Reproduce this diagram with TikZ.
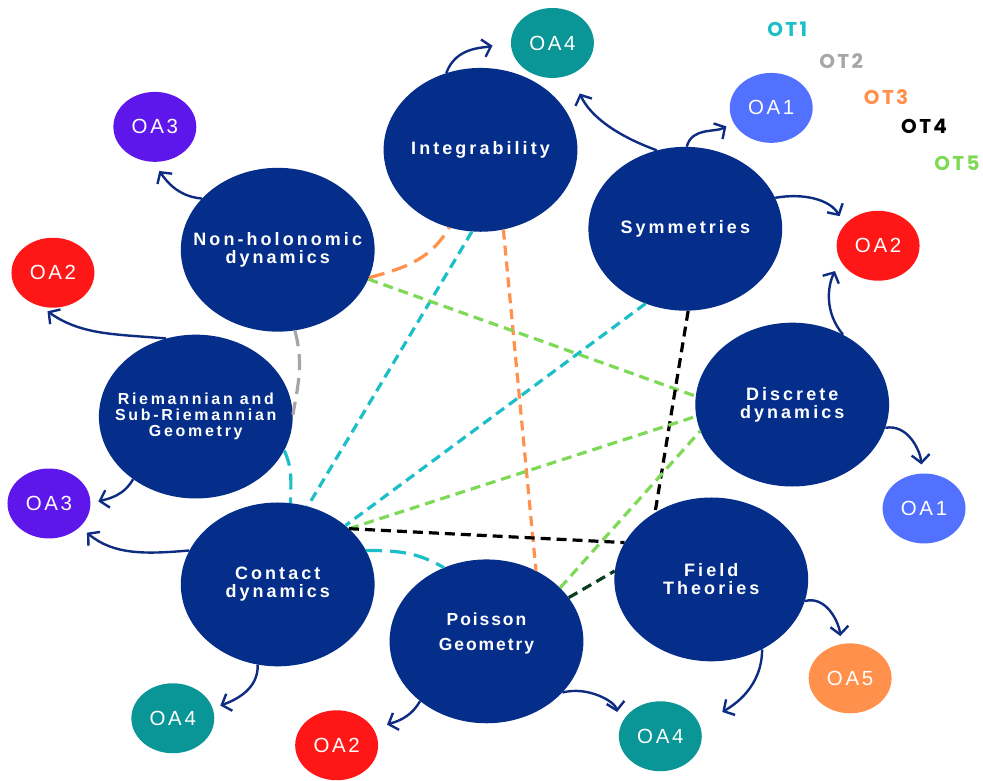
\documentclass[tikz,border=0pt]{standalone}
\usepackage{fontspec}
\setmainfont{Liberation Sans}
\newfontfamily\topicfont[LetterSpace=17]{Liberation Sans}
\newfontfamily\poissonfont[LetterSpace=11]{Liberation Sans}
\newfontfamily\oafont[LetterSpace=13]{Liberation Sans}
\newfontfamily\otfont[LetterSpace=12]{Poppins}
\usetikzlibrary{arrows.meta,shapes.geometric}
\definecolor{topicB}{RGB}{4,46,138}
\definecolor{flowB}{RGB}{14,44,130}
\definecolor{tealB}{RGB}{10,150,150}
\definecolor{blueB}{RGB}{82,113,255}
\definecolor{redB}{RGB}{255,22,22}
\definecolor{purpleB}{RGB}{94,23,235}
\definecolor{orangeB}{RGB}{255,145,77}
\definecolor{cyanB}{RGB}{28,190,200}
\definecolor{greyB}{RGB}{166,166,166}
\definecolor{greenB}{RGB}{126,217,87}
\definecolor{darkgreenB}{RGB}{12,60,32}

\begin{document}
\begin{tikzpicture}[x=1pt,y=1pt,
  topic/.style={ellipse, fill=topicB, text=white, minimum width=194pt, minimum height=164pt,
    inner xsep=-40pt, inner ysep=0pt, align=center,
    font=\topicfont\bfseries\fontsize{18}{18}\selectfont},
  oa/.style={ellipse, fill=#1, text=white, minimum width=83pt, minimum height=70pt,
    inner sep=0pt, font=\oafont\fontsize{20.5}{20.5}\selectfont},
  flow/.style={draw=flowB, line width=2.4pt, -{Straight Barb[length=8pt,width=18pt]}},
  ot/.style={line width=3.2pt, dash pattern=on 10pt off 6pt},
  otarc/.style={line width=3.2pt, dash pattern=on 16pt off 8pt}]
  \fill[white] (0,-780) rectangle (983,0);

  % topics
  \node[topic] (integ) at (481,-150) {Integrability};
  \node[topic] (sym) at (686,-229) {Symmetries};
  \node[topic] (nonhol) at (278,-250) {Non-holonomic\\dynamics};
  \node[topic, font=\topicfont\bfseries\fontsize{16}{16}\selectfont] (riem) at (196,-417)
     {Riemannian and\\Sub-Riemannian\\Geometry};
  \node[topic] (disc) at (793,-405) {Discrete\\dynamics};
  \node[topic] (contact) at (278,-585) {Contact\\dynamics};
  \node[topic, font=\poissonfont\bfseries\fontsize{17.5}{25}\selectfont] (poisson) at (487,-642)
     {Poisson\\Geometry\\[-6pt]};
  \node[topic] (field) at (712,-580) {Field\\Theories};

  % outcomes
  \foreach \n/\x/\y/\c/\t in {oa4a/553/43/tealB/OA4, oa1a/772/108/blueB/OA1,
      oa3a/155/127/purpleB/OA3, oa2a/53/273/redB/OA2, oa2b/879/246/redB/OA2,
      oa3b/49/504/purpleB/OA3, oa1b/925/509/blueB/OA1, oa4b/173/719/tealB/OA4,
      oa2c/337/746/redB/OA2, oa4c/661/737/tealB/OA4, oa5/851/679/orangeB/OA5}
    \node[oa=\c] (\n) at (\x,-\y) {\t};

  % legend
  \foreach \n/\t/\x/\y/\c in {ot1/OT1/788/29/cyanB, ot2/OT2/842/61/greyB,
      ot3/OT3/887/97/orangeB, ot4/OT4/925/127/black, ot5/OT5/958/163/greenB}
    \node[text=\c, font=\otfont\bfseries\fontsize{20}{20}\selectfont] (\n) at (\x,-\y) {\t};

  % transversal links
  \foreach \a/\b/\c in {integ.264/contact.69/cyanB, integ.-74/poisson.55/orangeB,
      nonhol.-18/disc.175/greenB, sym.242/contact.41/cyanB, sym.-88/field.130/black,
      contact.38/disc.187/greenB, poisson.36/disc.196/greenB, contact.38/field.157/black,
      poisson.28/field.175/darkgreenB}
    \draw[ot, \c] (\a) -- (\b);
  \draw[otarc, orangeB] (nonhol.-17) to[out=15,in=-120] (integ.248);
  \draw[otarc, greyB] (nonhol.-78) to[out=-75,in=80] (riem.1);
  \draw[otarc, cyanB] (riem.-21) to[out=-65,in=90] (contact.81);
  \draw[otarc, cyanB] (contact.21) to[out=0,in=150] (poisson.120);

  % arrows to outcomes
  \foreach \s/\o/\i/\e/\k in {integ.114/70/195/oa4a.177/19, sym.110/160/-66/oa4a.-59/21,
      sym.89/75/210/oa1a.201/8, sym.19/10/120/oa2b.148/10, disc.54/130/-116/oa2b.201/12,
      disc.-14/10/95/oa1b.93/9, field.-13/15/95/oa5.105/8, field.-54/-90/30/oa4c.16/26,
      poisson.-34/15/100/oa4c.168/16, poisson.222/-120/20/oa2c.23/14,
      contact.256/-88/20/oa4b.14/8, contact.159/185/-40/oa3b.-37/9,
      riem.225/-120/15/oa3b.0/8, riem.111/175/-35/oa2a.249/9, nonhol.146/175/-55/oa3a.267/11}
    \draw[flow, shorten >=\k pt] (\s) to[out=\o,in=\i] (\e);
\end{tikzpicture}
\end{document}
